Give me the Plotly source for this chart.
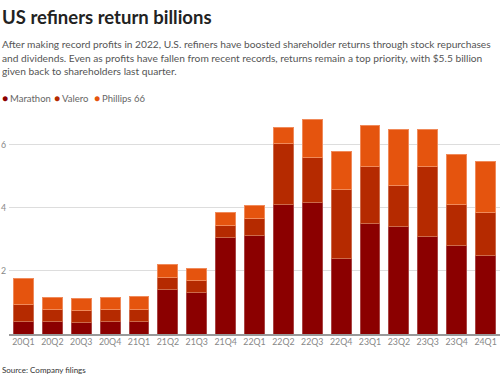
import plotly.graph_objects as go

quarters = ["20Q1","20Q2","20Q3","20Q4","21Q1","21Q2","21Q3","21Q4","22Q1",
            "22Q2","22Q3","22Q4","23Q1","23Q2","23Q3","23Q4","24Q1"]
marathon = [0.39,0.39,0.37,0.39,0.40,1.41,1.30,3.06,3.12,4.10,4.17,2.40,3.49,3.40,3.09,2.80,2.50]
valero   = [0.53,0.38,0.39,0.38,0.39,0.39,0.40,0.39,0.55,1.92,1.42,2.19,1.80,1.29,2.20,1.30,1.34]
phillips = [0.83,0.39,0.38,0.39,0.39,0.39,0.38,0.39,0.39,0.52,1.19,1.19,1.30,1.80,1.20,1.58,1.61]
y_ticks = [2, 4, 6]

names = ["Marathon", "Valero", "Phillips 66"]
colors = ["#8b0000", "#b52a00", "#e5540e"]
border = ["#a84444", "#cc6a4a", "#f08a5a"]
FONT = "Lato"

W, H = 500, 377
ML, MR, MT, MB = 9, 0, 113, 43

fig = go.Figure()
for name, vals, c, b in zip(names, [marathon, valero, phillips], colors, border):
    fig.add_trace(go.Bar(x=quarters, y=vals, name=name, marker_color=c,
                         marker_line=dict(color=b, width=1), showlegend=False))

fig.update_layout(
    barmode="stack", bargap=0.31,
    width=W, height=H,
    margin=dict(l=ML, r=MR, t=MT, b=MB),
    paper_bgcolor="white", plot_bgcolor="white",
    font=dict(family=FONT, color="#666"),
    xaxis=dict(showgrid=False, showline=True, linecolor="#999", linewidth=2,
               ticks="", tickangle=0, automargin=False, ticklabelstandoff=-2,
               tickfont=dict(size=8.8, color="#888"), fixedrange=True),
    yaxis=dict(range=[0, 7], tickvals=y_ticks, showgrid=True, gridcolor="#ddd",
               gridwidth=1, zeroline=False, showline=False, ticks="", automargin=False,
               tickfont=dict(size=8.8, color="#888"), ticklabelstandoff=2, fixedrange=True),
)

ann = [
    dict(text="<b>US refiners return billions</b>", x=0, y=17, font=dict(size=18.5, color="#222")),
    dict(text="After making record profits in 2022, U.S. refiners have boosted shareholder returns through stock repurchases",
         x=0, y=44, font=dict(size=10.2, color="#555")),
    dict(text="and dividends. Even as profits have fallen from recent records, returns remain a top priority, with $5.5 billion",
         x=0, y=57.5, font=dict(size=10.2, color="#555")),
    dict(text="given back to shareholders last quarter.", x=0, y=71, font=dict(size=10.2, color="#555")),
    dict(text="Source: Company filings", x=0, y=370, font=dict(size=8, color="#333")),
]
legend_dot_x = [0, 52, 92]
legend_txt_x = [8, 60, 100]
for name, c, dx, tx in zip(names, colors, legend_dot_x, legend_txt_x):
    ann.append(dict(text="●", x=dx, y=98, font=dict(size=10, color=c)))
    ann.append(dict(text=name, x=tx, y=98, font=dict(size=9.5, color="#666")))

for src in ann:
    fig.add_annotation(text=src["text"],
                       x=(src["x"] - ML) / (W - ML - MR),
                       y=(H - MB - src["y"]) / (H - MT - MB),
                       xref="paper", yref="paper", xanchor="left", yanchor="middle",
                       showarrow=False, font=dict(family=FONT, **src["font"]))

fig.write_html("out.html", config={"displayModeBar": False},
               post_script="document.body.style.margin='0';")
